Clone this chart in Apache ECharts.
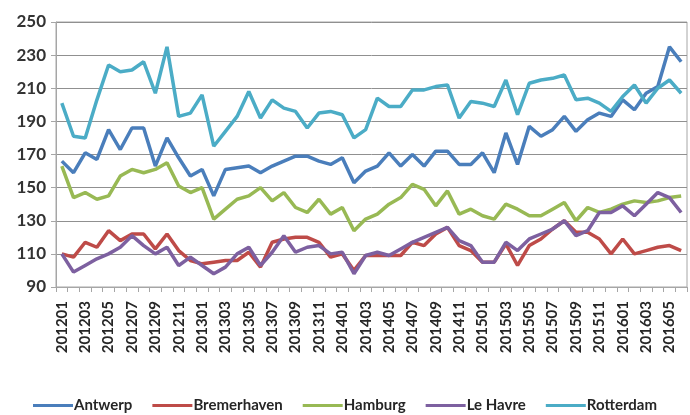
<!DOCTYPE html>
<html>
<head>
<meta charset="utf-8">
<script src="https://cdn.jsdelivr.net/npm/echarts@6/dist/echarts.min.js"></script>
<style>
html,body{margin:0;padding:0;background:#fff;}
#chart{width:690px;height:415px;}
</style>
</head>
<body>
<div id="chart"></div>
<script>
const months = [
  '201201','201202','201203','201204','201205','201206','201207','201208','201209','201210','201211','201212',
  '201301','201302','201303','201304','201305','201306','201307','201308','201309','201310','201311','201312',
  '201401','201402','201403','201404','201405','201406','201407','201408','201409','201410','201411','201412',
  '201501','201502','201503','201504','201505','201506','201507','201508','201509','201510','201511','201512',
  '201601','201602','201603','201604','201605','201606'
];
const antwerp = [166,159,171,167,185,173,186,186,163,180,168,157,161,145,161,162,163,159,163,166,169,169,166,164,168,
  153,160,163,171,163,170,163,172,172,164,164,171,159,183,164,187,181,185,193,184,191,195,193,203,197,207,211,235,226];
const bremerhaven = [110,108,117,114,124,118,122,122,113,122,112,106,104,105,106,106,111,102,117,119,120,120,117,108,110,
  100,109,109,109,109,117,115,122,126,115,112,105,105,116,103,115,119,125,130,123,123,119,110,119,110,112,114,115,112];
const hamburg = [163,144,147,143,145,157,161,159,161,165,151,147,150,131,137,143,145,150,142,147,138,135,143,134,138,
  124,131,134,140,144,152,149,139,148,134,137,133,131,140,137,133,133,137,141,130,138,135,137,140,142,141,142,144,145];
const leHavre = [110,99,103,107,110,114,121,115,110,114,103,108,103,98,102,110,114,103,111,121,111,114,115,110,111,
  98,109,111,109,113,117,120,123,126,118,115,105,105,117,112,119,122,125,130,121,124,135,135,139,133,140,147,144,135];
const rotterdam = [201,181,180,203,224,220,221,226,207,235,193,195,206,175,184,193,208,192,203,198,196,186,195,196,194,
  180,185,204,199,199,209,209,211,212,192,202,201,199,215,194,213,215,216,218,203,204,201,196,205,212,201,210,215,207];

const seriesNames = ['Antwerp','Bremerhaven','Hamburg','Le Havre','Rotterdam'];
const seriesData = [antwerp, bremerhaven, hamburg, leHavre, rotterdam];
const colors = ['#4A7EBB','#BE4B48','#98B954','#7D60A0','#4BACC6'];

const chart = echarts.init(document.getElementById('chart'));
chart.setOption({
  animation: false,
  backgroundColor: '#ffffff',
  color: colors,
  grid: { left: 56, right: 3, top: 22, bottom: 128, show: true, borderColor: '#a6a6a6', borderWidth: 1 },
  legend: {
    bottom: -3, left: 'center',
    icon: 'rect', itemWidth: 40, itemHeight: 3, itemGap: 20,
    textStyle: { fontFamily: 'Lato', fontWeight: 'bold', fontSize: 15, color: '#262626', padding: [0,0,0,-4] },
    data: seriesNames
  },
  xAxis: {
    type: 'category', data: months, boundaryGap: true,
    axisLine: { lineStyle: { color: '#a6a6a6', width: 1 } },
    axisTick: { show: true, interval: 0, length: 5, lineStyle: { color: '#a6a6a6' } },
    axisLabel: { interval: 1, rotate: 90, margin: 14, fontFamily: 'Lato', fontWeight: 'bold', fontSize: 15, color: '#262626' },
    splitLine: { show: false }
  },
  yAxis: {
    type: 'value', min: 90, max: 250, interval: 20,
    axisLine: { show: true, lineStyle: { color: '#a6a6a6', width: 1 } },
    axisTick: { show: true, length: 5, lineStyle: { color: '#a6a6a6' } },
    axisLabel: { margin: 10, fontFamily: 'Lato', fontWeight: 'bold', fontSize: 17, color: '#333333' },
    splitLine: { lineStyle: { color: '#909090', width: 1 } }
  },
  series: seriesNames.map((n, i) => ({
    name: n, type: 'line', data: seriesData[i], symbol: 'none', smooth: false,
    lineStyle: { width: 3.5, color: colors[i] }, itemStyle: { color: colors[i] }
  }))
});
</script>
</body>
</html>
